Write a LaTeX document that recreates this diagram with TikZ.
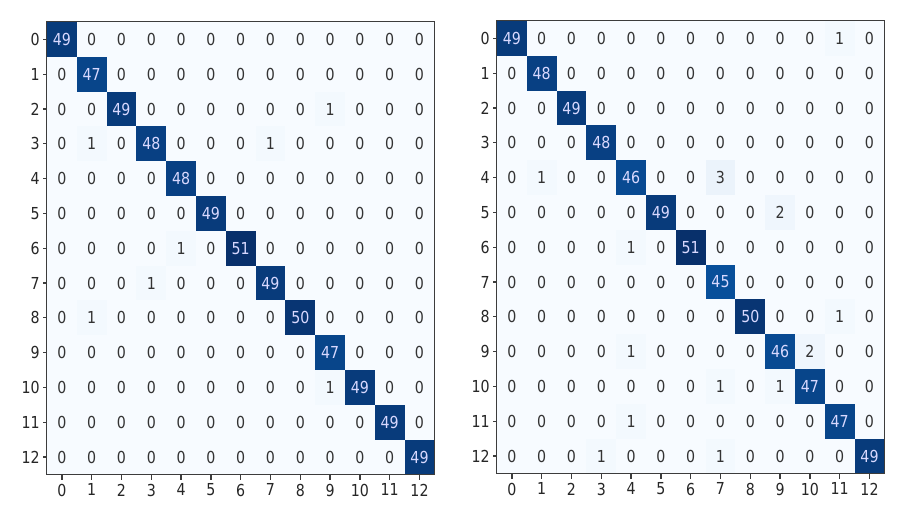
\documentclass[tikz,border=0pt]{standalone}
\usepackage{fontspec}
\setmainfont[FakeStretch=0.86]{DejaVu Sans}
\usetikzlibrary{calc}
\definecolor{bluesA}{RGB}{247,251,255}
\definecolor{bluesB}{RGB}{222,235,247}
\definecolor{bluesG}{RGB}{8,81,156}
\definecolor{bluesH}{RGB}{8,48,107}
\definecolor{framegray}{RGB}{60,60,60}
\tikzset{
	cell/.style={inner sep=0pt, minimum width=29.8pt, minimum height=34.8pt, font=\fontsize{16.5}{17}\selectfont},
	ticklab/.style={inner sep=0pt, text=black!85, font=\fontsize{16.5}{17}\selectfont},
	frame/.style={line width=1.3pt, color=framegray}
}
\def\confmat#1(#2,#3)#4{%
	\begin{scope}[shift={(#2,#3)}]
		\foreach \row [count=\r from 0] in {#4} {
			\foreach \v [count=\c from 0] in \row {
				\ifnum\v>10
					\pgfmathtruncatemacro\pct{(\v/51-0.875)/0.125*100}
					\def\cellcol{bluesH!\pct!bluesG}\def\txtcol{white!85!blue}
				\else
					\pgfmathtruncatemacro\pct{\v/51/0.125*100}
					\def\cellcol{bluesB!\pct!bluesA}\def\txtcol{black!80}
				\fi
				\node[cell, fill=\cellcol, text=\txtcol] (#1-\r-\c) at ({(\c+0.5)*29.8},{(\r+0.5)*34.8}) {\v};
			}
		}
		\draw[frame] (#1-0-0.north west) rectangle (#1-12-12.south east);
		\foreach \k in {0,...,12} {
			\draw[frame] (#1-\k-0.west) -- ++(-4,0) coordinate (#1-yt\k);
			\node[ticklab, anchor=east] (#1-yl\k) at ($(#1-yt\k)+(-3,0)$) {\k};
			\draw[frame] (#1-12-\k.south) -- ++(0,5) coordinate (#1-xt\k);
			\node[ticklab, anchor=north] (#1-xl\k) at ($(#1-xt\k)+(0,4)$) {\k};
		}
	\end{scope}}

\begin{document}
\begin{tikzpicture}[x=1pt, y=-1pt]
	%%%%% START %%%%%
	
	\useasboundingbox[fill=white] (0,0) rectangle (908,510);
	
	% left matrix
	\confmat{L}(47,22){
		{49,0,0,0,0,0,0,0,0,0,0,0,0},
		{0,47,0,0,0,0,0,0,0,0,0,0,0},
		{0,0,49,0,0,0,0,0,0,1,0,0,0},
		{0,1,0,48,0,0,0,1,0,0,0,0,0},
		{0,0,0,0,48,0,0,0,0,0,0,0,0},
		{0,0,0,0,0,49,0,0,0,0,0,0,0},
		{0,0,0,0,1,0,51,0,0,0,0,0,0},
		{0,0,0,1,0,0,0,49,0,0,0,0,0},
		{0,1,0,0,0,0,0,0,50,0,0,0,0},
		{0,0,0,0,0,0,0,0,0,47,0,0,0},
		{0,0,0,0,0,0,0,0,0,1,49,0,0},
		{0,0,0,0,0,0,0,0,0,0,0,49,0},
		{0,0,0,0,0,0,0,0,0,0,0,0,49}}
	
	% right matrix
	\confmat{R}(497,21){
		{49,0,0,0,0,0,0,0,0,0,0,1,0},
		{0,48,0,0,0,0,0,0,0,0,0,0,0},
		{0,0,49,0,0,0,0,0,0,0,0,0,0},
		{0,0,0,48,0,0,0,0,0,0,0,0,0},
		{0,1,0,0,46,0,0,3,0,0,0,0,0},
		{0,0,0,0,0,49,0,0,0,2,0,0,0},
		{0,0,0,0,1,0,51,0,0,0,0,0,0},
		{0,0,0,0,0,0,0,45,0,0,0,0,0},
		{0,0,0,0,0,0,0,0,50,0,0,1,0},
		{0,0,0,0,1,0,0,0,0,46,2,0,0},
		{0,0,0,0,0,0,0,1,0,1,47,0,0},
		{0,0,0,0,1,0,0,0,0,0,0,47,0},
		{0,0,0,1,0,0,0,1,0,0,0,0,49}}
	
	%%%%% END %%%%%
\end{tikzpicture}
\end{document}
